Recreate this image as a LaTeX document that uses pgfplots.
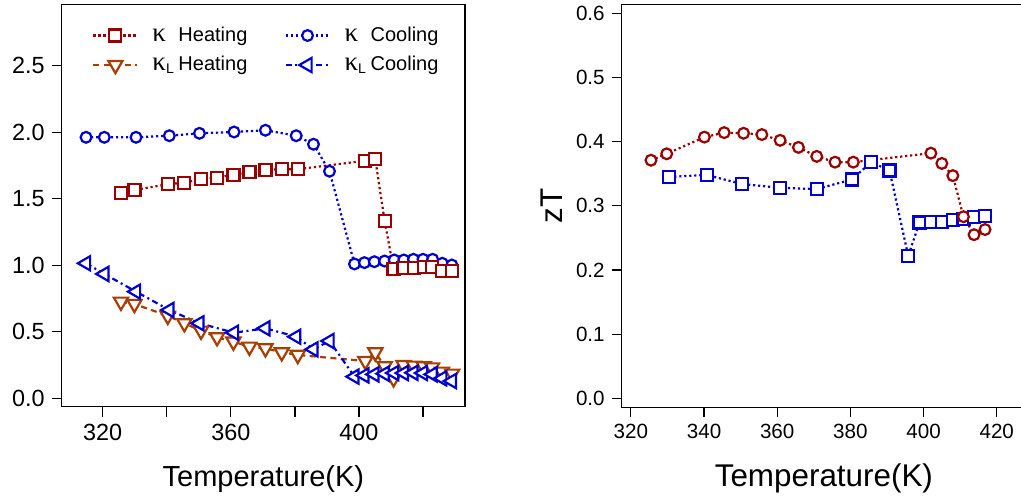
\documentclass[border=0pt]{standalone}
\usepackage{pgfplots}
\pgfplotsset{compat=1.18}
\usepackage{fontspec}
\setmainfont{Liberation Sans}
\newfontfamily\greekserif{Liberation Serif}

\definecolor{kred}{RGB}{155,0,0}
\definecolor{kblue}{RGB}{0,0,208}
\definecolor{kbrown}{RGB}{168,62,0}

\newcommand{\kap}{{\greekserif\fontsize{13.5}{12}\selectfont κ}}

\pgfplotsset{
  panel/.style={
    scale only axis,
    axis line style={line width=0.6pt},
    every tick/.style={black, line width=0.6pt},
    tick align=outside,
    major tick length=5pt,
    minor tick length=5pt,
    xtick pos=bottom, ytick pos=left,
    /pgf/number format/assume math mode=true,
    yticklabel style={/pgf/number format/.cd, fixed, fixed zerofill, precision=1},
  },
  dotline/.style={line width=1.1pt, dash pattern=on 1.1pt off 1.4pt},
  dashline/.style={line width=1.1pt, dash pattern=on 3pt off 2.2pt},
  dashdotline/.style={line width=1.1pt, dash pattern=on 3pt off 1.8pt on 1pt off 1.8pt},
  sq/.style={mark=square*, mark size=3pt, mark options={solid, fill=white, line width=1.1pt}},
  circ/.style={mark=*, mark size=2.7pt, mark options={solid, fill=white, line width=1.1pt}},
  tridown/.style={mark=triangle*, mark size=4.1pt, mark options={solid, fill=white, rotate=180, line width=1.1pt}},
  trileft/.style={mark=triangle*, mark size=4.1pt, mark options={solid, fill=white, rotate=90, line width=1.1pt}},
}

\begin{document}
\begin{tikzpicture}

% ---------------- thermal conductivity ----------------
\begin{axis}[panel,
  at={(30.85pt,45.15pt)}, anchor=south west,
  width=201.65pt, height=201.2pt,
  xmin=307.2, xmax=433.1, ymin=-0.063, ymax=2.962,
  xtick={320,360,400}, minor xtick={340,380,420},
  ytick={0,0.5,1,1.5,2,2.5},
  ticklabel style={font=\fontsize{11.7}{13}\selectfont},
  xlabel={Temperature(K)},
  xlabel style={font=\fontsize{14.5}{17}\selectfont, yshift=-5.5pt},
  legend columns=2,
  legend cell align=left,
  legend style={draw=none, fill=none, at={(0.06,0.965)}, anchor=north west,
    font=\fontsize{10}{12}\selectfont, row sep=2pt,
    /tikz/every odd column/.append style={column sep=5pt},
    /tikz/every even column/.append style={column sep=16.5pt}},
  legend image code/.code={\draw[mark repeat=2,mark phase=2]
    plot coordinates {(0pt,0pt)(11pt,0pt)(22pt,0pt)};},
]
% kappa, cooling
\addplot[kblue, dotline, circ, forget plot] coordinates {
 (314.8,1.962) (320.5,1.962) (330.4,1.962) (340.8,1.974) (350.2,1.992)
 (361.0,2.002) (370.8,2.015) (380.4,1.974) (385.8,1.910) (390.8,1.707)
 (398.6,1.010) (401.7,1.020) (404.8,1.027) (408.0,1.032) (411.0,1.040)
 (414.0,1.040) (417.0,1.045) (420.0,1.045) (423.0,1.045) (426.0,1.015)
 (429.0,1.002)};
% kappa, heating
\addplot[kred, dotline, sq, forget plot] coordinates {
 (325.7,1.546) (329.9,1.566) (340.3,1.609) (345.5,1.621) (350.7,1.649)
 (355.7,1.659) (360.8,1.681) (365.8,1.699) (370.8,1.719) (375.9,1.722)
 (380.9,1.722) (402.0,1.786) (405.1,1.797) (408.0,1.335) (410.8,0.972)
 (413.9,0.977) (417.1,0.982) (420.2,0.985) (422.8,0.989) (425.9,0.959)
 (429.1,0.959)};
% lattice kappa, heating
\addplot[kbrown, dashline, tridown, forget plot] coordinates {
 (325.7,0.726) (329.9,0.709) (340.3,0.620) (345.5,0.564) (350.7,0.508)
 (355.7,0.459) (360.8,0.426) (365.8,0.388) (370.8,0.376) (375.9,0.346)
 (380.9,0.326) (402.0,0.280) (405.1,0.345) (408.0,0.240) (410.8,0.150)
 (413.9,0.250) (417.1,0.245) (420.2,0.240) (422.8,0.232) (425.9,0.200)
 (429.1,0.185)};
% lattice kappa, cooling
\addplot[kblue, dashdotline, trileft, forget plot] coordinates {
 (314.8,1.015) (320.5,0.935) (330.4,0.802) (340.8,0.664) (350.2,0.564)
 (361.0,0.493) (370.8,0.526) (380.4,0.463) (385.8,0.368) (390.8,0.431)
 (398.6,0.163) (401.7,0.172) (404.8,0.180) (408.0,0.185) (411.0,0.190)
 (414.0,0.190) (417.0,0.192) (420.0,0.190) (423.0,0.180) (426.0,0.150)
 (429.0,0.130)};

\addlegendimage{kred, dotline, sq}
\addlegendentry{\makebox[13pt][l]{\kap}Heating}
\addlegendimage{kblue, dotline, circ}
\addlegendentry{\makebox[13pt][l]{\kap}Cooling}
\addlegendimage{kbrown, dashline, tridown}
\addlegendentry{\makebox[13pt][l]{\kap\textsubscript{L}}Heating}
\addlegendimage{kblue, dashdotline, trileft}
\addlegendentry{\makebox[13pt][l]{\kap\textsubscript{L}}Cooling}
\end{axis}

% ---------------- figure of merit ----------------
\begin{axis}[panel,
  at={(310.85pt,44.85pt)}, anchor=south west,
  width=202.15pt, height=201.5pt,
  xmin=317.5, xmax=428, ymin=-0.014, ymax=0.614,
  xtick={320,340,360,380,400,420},
  ytick={0,0.1,0.2,0.3,0.4,0.5,0.6},
  ticklabel style={font=\fontsize{10.3}{12}\selectfont},
  xlabel={Temperature(K)}, ylabel={zT},
  xlabel style={font=\fontsize{15.7}{18}\selectfont, yshift=-5.5pt},
  ylabel style={font=\fontsize{15.7}{18}\selectfont},
]
\addplot[kblue, dotline, sq] coordinates {
 (330.5,0.345) (340.8,0.348) (350.3,0.334) (360.8,0.328) (370.8,0.326)
 (380.4,0.341) (385.7,0.368) (390.7,0.355) (395.8,0.222) (398.9,0.274)
 (402.0,0.275) (405.0,0.275) (408.0,0.278) (410.9,0.280) (413.8,0.282)
 (416.8,0.284)};
\addplot[kred, dotline, circ] coordinates {
 (325.5,0.371) (329.8,0.381) (340.1,0.407) (345.5,0.414) (350.8,0.413)
 (355.8,0.411) (360.8,0.402) (365.8,0.391) (370.8,0.377) (375.8,0.368)
 (380.8,0.368) (402.0,0.382) (405.0,0.366) (408.0,0.347) (410.9,0.283)
 (413.8,0.255) (416.8,0.263)};
\end{axis}

\pgfresetboundingbox
\path[use as bounding box] (0,0) rectangle (510.5pt,248.5pt);
\end{tikzpicture}
\end{document}
